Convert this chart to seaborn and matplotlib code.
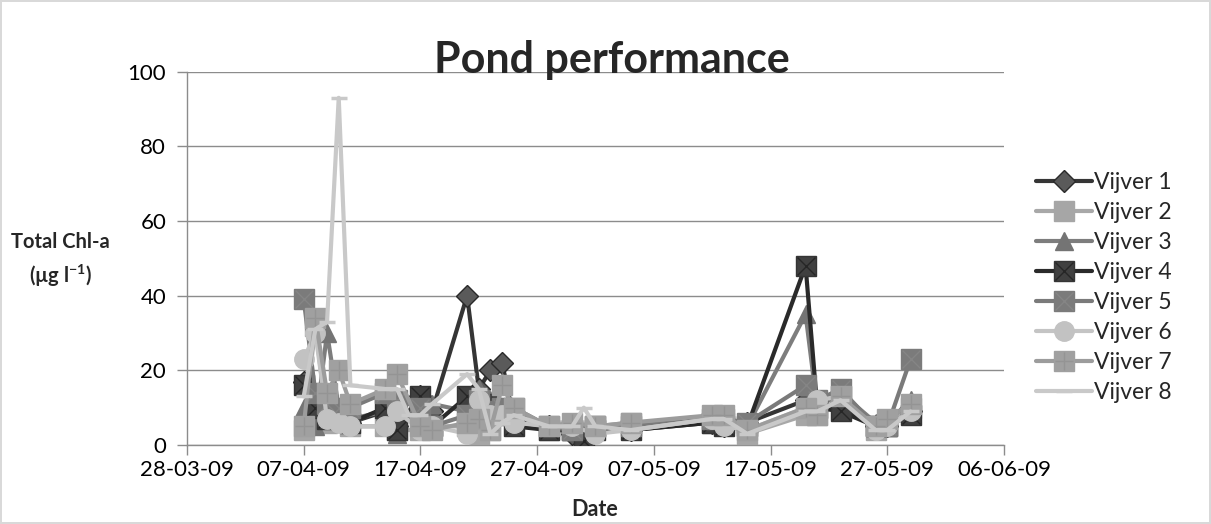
import matplotlib
matplotlib.use("Agg")
import matplotlib.pyplot as plt
import matplotlib.dates as mdates
from matplotlib.lines import Line2D
from matplotlib.legend_handler import HandlerTuple
import numpy as np
import pandas as pd
import seaborn as sns

# ---------------- data ----------------
dates = ['2009-04-07', '2009-04-08', '2009-04-09', '2009-04-10', '2009-04-11',
         '2009-04-14', '2009-04-15', '2009-04-16', '2009-04-17', '2009-04-18',
         '2009-04-21', '2009-04-22', '2009-04-23', '2009-04-24', '2009-04-25',
         '2009-04-28', '2009-04-30', '2009-05-01', '2009-05-02', '2009-05-05',
         '2009-05-12', '2009-05-13', '2009-05-15', '2009-05-20', '2009-05-21',
         '2009-05-23', '2009-05-26', '2009-05-27', '2009-05-29']
N = None
vijver1 = [17, 9, 7, N, 6, 9, 5, N, 13, 9, 40, 15, 20, 22, 7, 5, 3, N, 4, 4, 6, 5, 6, 12, 11, 10, 5, 5, 9]
vijver2 = [4, 32, 6, N, 5, 5, 4, N, 4, 5, 5, 3, 4, 10, N, 4, 4, N, 5, 6, 6, 6, 3, 8, 8, 13, 4, 5, 10]
vijver3 = [10, 5, 30, 10, 7, 9, 3, N, 11, 11, 9, 15, 12, 17, 9, 5, 4, N, 5, 5, 6, 6, 5, 35, 10, 14, 6, 6, 12]
vijver4 = [16, 10, 7, 9, 6, 10, 4, N, 13, 5, 13, 10, 11, 8, 5, 4, 4, 1, 4, 4, 6, 5, 5, 48, 10, 9, 5, 5, 8]
vijver5 = [39, 14, 11, 10, 10, 14, 12, N, 10, 5, 8, 12, 9, 10, 10, 5, 4, N, 5, 5, 7, 7, 6, 16, 12, 15, 5, 5, 23]
vijver6 = [23, 30, 7, 6, 5, 5, 9, N, 4, 5, 3, 12, 8, 8, 6, 5, 5, N, 3, 4, 7, 5, 4, 10, 12, 13, 4, 5, 9]
vijver7 = [5, 34, 14, 20, 11, 15, 19, N, 5, 4, 6, 7, 4, 16, 10, 5, 6, N, 5, 6, 8, 8, 4, 10, 8, 13, 5, 7, 11]
vijver8 = [13, 31, 33, 93, 16, 15, 15, 8, 8, 11, 19, 15, 3, 6, 8, 5, 5, 10, 5, 4, 7, 7, 3, 9, 9, 12, 4, 4, 9]

series_names = ['Vijver 1', 'Vijver 2', 'Vijver 3', 'Vijver 4',
                'Vijver 5', 'Vijver 6', 'Vijver 7', 'Vijver 8']
series_values = [vijver1, vijver2, vijver3, vijver4, vijver5, vijver6, vijver7, vijver8]

x_start, x_end = '2009-03-28', '2009-06-06'
y_ticks = [0, 20, 40, 60, 80, 100]

# ---------------- styles ----------------
styles = {
    'Vijver 1': dict(line='#353535', marker='D', face='#5a5a5a', edge='#2a2a2a', ms=11.5, over=None),
    'Vijver 2': dict(line='#a8a8a8', marker='s', face='#a6a6a6', edge='#a6a6a6', ms=14, over=None),
    'Vijver 3': dict(line='#7d7d7d', marker='^', face='#747474', edge='#747474', ms=12.5, over=None),
    'Vijver 4': dict(line='#2a2a2a', marker='s', face='#404040', edge='#353535', ms=14, over=('x', '#262626')),
    'Vijver 5': dict(line='#7a7a7a', marker='s', face='#7b7b7b', edge='#7b7b7b', ms=14, over=('x', '#858585')),
    'Vijver 6': dict(line='#c4c4c4', marker='o', face='#c2c2c2', edge='#c2c2c2', ms=14, over=None),
    'Vijver 7': dict(line='#9c9c9c', marker='s', face='#a0a0a0', edge='#a0a0a0', ms=14, over=('+', '#949494')),
    'Vijver 8': dict(line='#c9c9c9', marker='_', face='#c9c9c9', edge='#c9c9c9', ms=11, over=None),
}

sns.set_theme(style='white')
plt.rcParams['font.family'] = ['Lato', 'DejaVu Sans']
plt.rcParams['mathtext.fontset'] = 'custom'
plt.rcParams['mathtext.bf'] = 'Lato:bold'
plt.rcParams['mathtext.rm'] = 'Lato:bold'

fig = plt.figure(figsize=(12.11, 5.24), dpi=100)
fig.patch.set_facecolor('white')
fig.patch.set_edgecolor('#d9d9d9')
fig.patch.set_linewidth(1.5)
ax = fig.add_axes([187 / 1211, 1 - 445 / 524, (1004 - 187) / 1211, (445 - 71.7) / 524])

date_idx = pd.to_datetime(dates)
handles = []
for i, (name, vals) in enumerate(zip(series_names, series_values)):
    st = styles[name]
    z = 3 + i * 0.1
    df = pd.DataFrame({'Date': date_idx, 'Chl': pd.array(vals, dtype='Float64')}).dropna()
    df['Chl'] = df['Chl'].astype(float)
    mew = 2.5 if st['marker'] == '_' else 1.0
    sns.lineplot(data=df, x='Date', y='Chl', ax=ax, color=st['line'], linewidth=3.0,
                 marker=st['marker'], markersize=st['ms'], markerfacecolor=st['face'],
                 markeredgecolor=st['edge'], markeredgewidth=mew, sort=False,
                 legend=False, zorder=z)
    h = Line2D([], [], color=st['line'], linewidth=3.0, marker=st['marker'],
               markersize=st['ms'], markerfacecolor=st['face'],
               markeredgecolor=st['edge'], markeredgewidth=mew)
    if st['over'] is not None:
        om, oc = st['over']
        osz = st['ms'] * 0.92
        sns.scatterplot(data=df, x='Date', y='Chl', ax=ax, marker=om, s=osz ** 2,
                        color=oc, linewidth=1.0, legend=False, zorder=z + 0.05)
        h2 = Line2D([], [], linestyle='none', marker=om, markersize=osz,
                    color=oc, markeredgewidth=1.0)
        handles.append((h, h2))
    else:
        handles.append(h)

# axes cosmetics
ax.set_xlim(pd.Timestamp(x_start), pd.Timestamp(x_end))
ax.set_ylim(0, 100)
ax.set_yticks(y_ticks)
ax.set_xticks(pd.date_range(x_start, x_end, freq='10D'))
ax.xaxis.set_major_formatter(mdates.DateFormatter('%d-%m-%y'))
ax.grid(axis='y', color='#8c8c8c', linewidth=1.0)
ax.grid(axis='x', visible=False)
for s in ['top', 'right']:
    ax.spines[s].set_visible(False)
for s in ['left', 'bottom']:
    ax.spines[s].set_color('#8c8c8c')
    ax.spines[s].set_linewidth(1.0)
ax.tick_params(axis='both', which='major', length=7, width=1.0, color='#8c8c8c',
               labelsize=16, labelcolor='black', direction='out', bottom=True, left=True)
ax.tick_params(axis='y', pad=8)
ax.tick_params(axis='x', pad=4)
ax.set_xlabel('')
ax.set_ylabel('')
ax.set_facecolor('white')

fig.text(0.505, 0.886, 'Pond performance', ha='center', va='center',
         fontsize=31, fontweight='bold')
fig.text(0.491, 0.027, 'Date', ha='center', va='center', fontsize=15.5, fontweight='bold')
fig.text(0.050, 0.538, 'Total Chl-a', ha='center', va='center', fontsize=14.5, fontweight='bold')
fig.text(0.050, 0.473, r'(µg l$^{\mathbf{-1}}$)', ha='center', va='center',
         fontsize=14.5, fontweight='bold')

fig.legend(handles, series_names, loc='upper left', bbox_to_anchor=(1036 / 1211, 1 - 172 / 524),
           frameon=False, fontsize=16.5, handlelength=2.45, handletextpad=0.1,
           labelspacing=0.39, borderaxespad=0, borderpad=0,
           handler_map={tuple: HandlerTuple(ndivide=1)})

fig.savefig('out.png', dpi=100, facecolor=fig.get_facecolor(), edgecolor=fig.get_edgecolor())
